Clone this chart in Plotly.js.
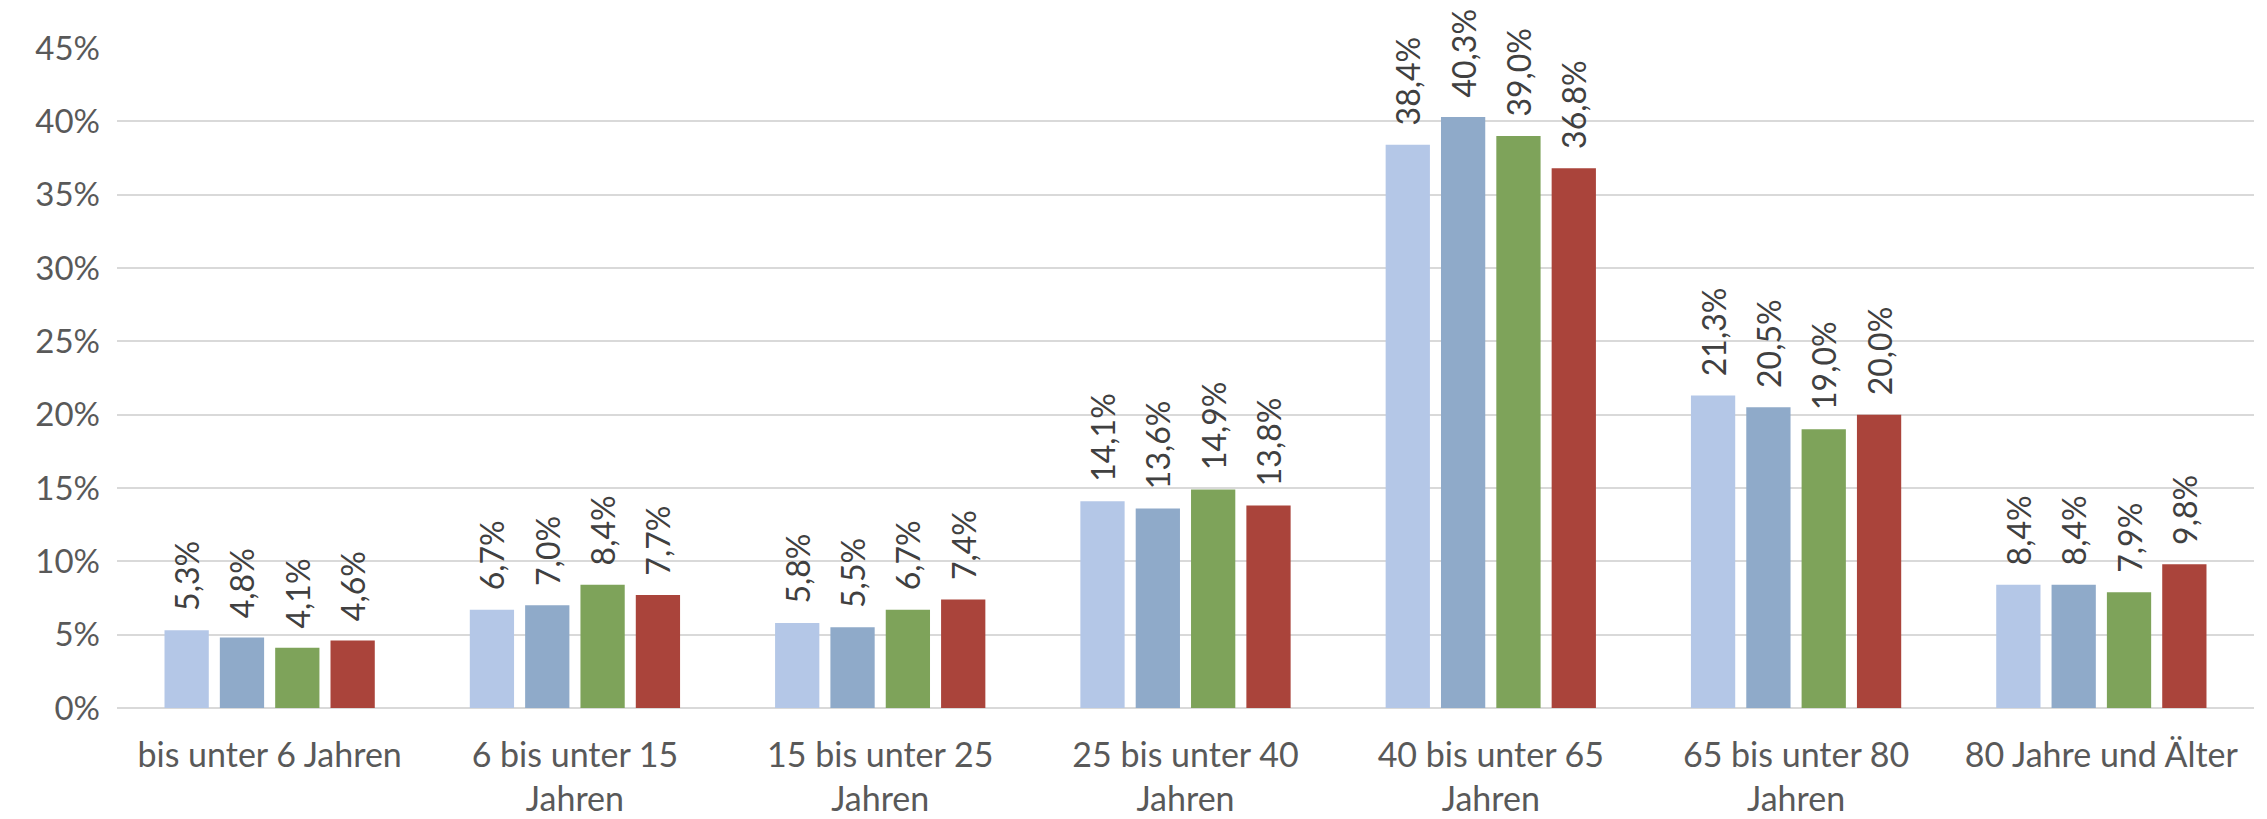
<!DOCTYPE html>
<html>
<head>
<meta charset="utf-8">
<script src="https://cdn.plot.ly/plotly-3.0.1.min.js"></script>
<style>html,body{margin:0;padding:0;background:#fff;}#chart{width:2267px;height:819px;}</style>
</head>
<body>
<div id="chart"></div>
<script>
const categories = [
  "bis unter 6 Jahren",
  "6 bis unter 15<br>Jahren",
  "15 bis unter 25<br>Jahren",
  "25 bis unter 40<br>Jahren",
  "40 bis unter 65<br>Jahren",
  "65 bis unter 80<br>Jahren",
  "80 Jahre und Älter"
];
const series1 = [5.3, 6.7, 5.8, 14.1, 38.4, 21.3, 8.4];
const series2 = [4.8, 7.0, 5.5, 13.6, 40.3, 20.5, 8.4];
const series3 = [4.1, 8.4, 6.7, 14.9, 39.0, 19.0, 7.9];
const series4 = [4.6, 7.7, 7.4, 13.8, 36.8, 20.0, 9.8];
const seriesNames = ["Reihe 1", "Reihe 2", "Reihe 3", "Reihe 4"];
const colors = ["#B4C7E7", "#8FAAC9", "#7EA35A", "#AA443B"];
const yTicks = [0, 5, 10, 15, 20, 25, 30, 35, 40, 45];

const fontFam = "Lato, 'Open Sans', sans-serif";
const fmt = v => "\u00A0\u00A0" + v.toFixed(1).replace(".", ",") + "%";

const traces = [series1, series2, series3, series4].map((vals, i) => ({
  type: "bar",
  name: seriesNames[i],
  x: categories,
  y: vals,
  marker: {color: colors[i]},
  text: vals.map(fmt),
  textposition: "outside",
  textangle: -90,
  constraintext: "none",
  cliponaxis: false,
  textfont: {family: fontFam, size: 32, color: "#404040"},
  hoverinfo: "x+y"
}));

const layout = {
  width: 2267,
  height: 819,
  margin: {l: 117, r: 13, t: 48, b: 111},
  paper_bgcolor: "#fff",
  plot_bgcolor: "#fff",
  showlegend: false,
  barmode: "group",
  bargap: 0.275,
  bargroupgap: 0.2,
  uniformtext: {mode: false},
  font: {family: fontFam, size: 32, color: "#595959"},
  xaxis: {
    type: "category",
    showgrid: false,
    showline: false,
    ticks: "",
    ticklabelstandoff: 24,
    tickfont: {family: fontFam, size: 34, color: "#595959"}
  },
  yaxis: {
    range: [0, 45],
    tickvals: yTicks,
    ticktext: yTicks.map(v => v + "%"),
    showgrid: true,
    gridcolor: "#D9D9D9",
    gridwidth: 2,
    zeroline: true,
    zerolinecolor: "#D9D9D9",
    zerolinewidth: 2,
    showline: false,
    ticks: "",
    ticklabelstandoff: 16,
    tickfont: {family: fontFam, size: 33, color: "#595959"}
  }
};

Plotly.newPlot("chart", traces, layout, {displayModeBar: false, staticPlot: true});
</script>
</body>
</html>
